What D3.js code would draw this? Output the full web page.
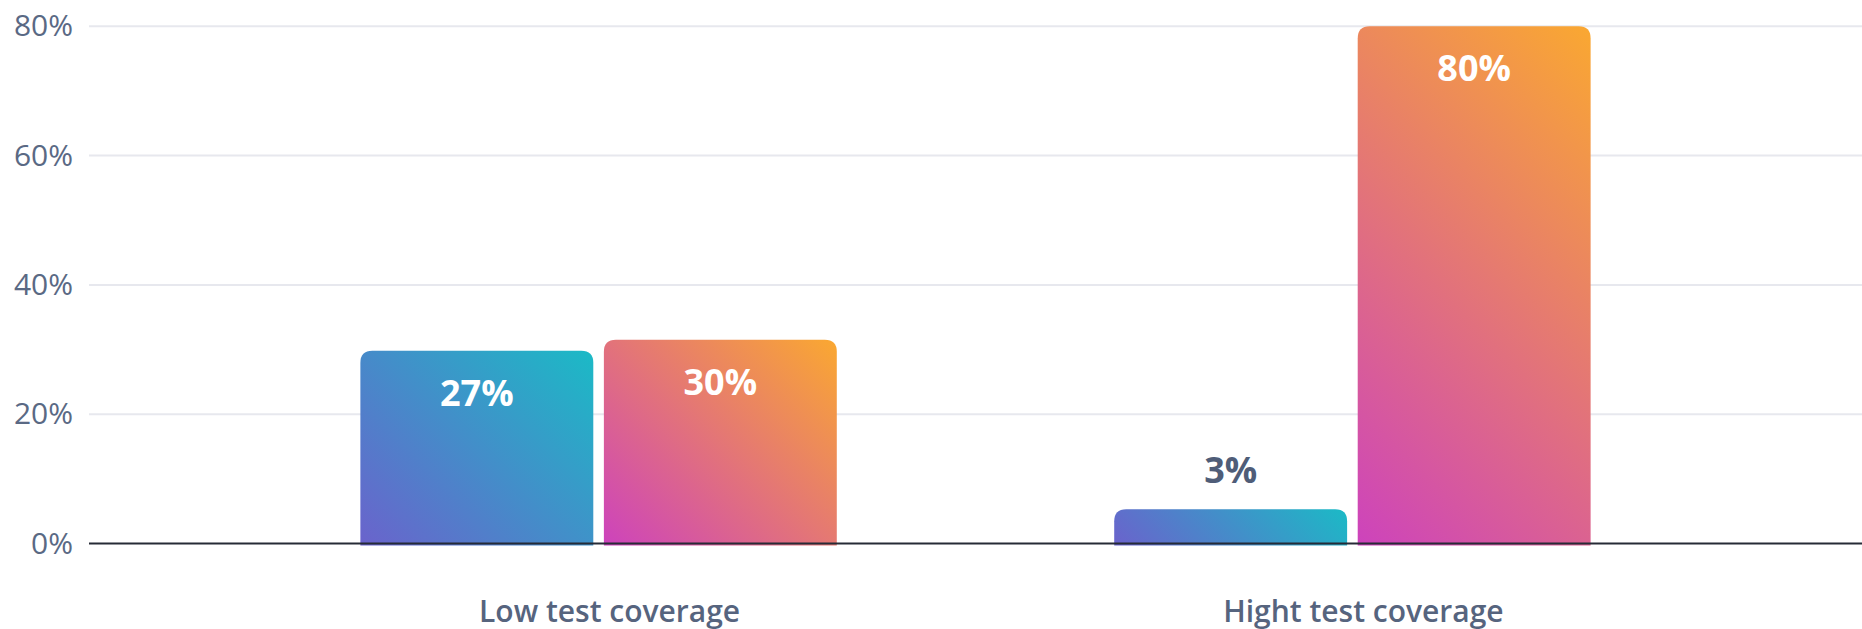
<!DOCTYPE html>
<html lang="en">
  <head>
    <meta charset="utf-8">
    <title>Test coverage</title>
    <script src="https://cdnjs.cloudflare.com/ajax/libs/d3/7.8.5/d3.min.js"></script>
    <style type="text/css">
      html, body { margin: 0; padding: 0; background: #fff; }
      svg { display: block; font-family: "Open Sans", sans-serif; }
    </style>
  </head>
  <body>
    <script type="text/javascript">
    // Width and height
    var w = 1862;
    var h = 629;

    // data
    var categories = ["Low test coverage", "Hight test coverage"];
    var series = ["before", "after"];
    var barValues = [[29.8, 31.5], [5.3, 80]];   // drawn heights, in %
    var barLabels = [["27%", "30%"], ["3%", "80%"]];
    var yTicks = [0, 20, 40, 60, 80];

    var gradColors = [["#6a63cc", "#1bbac6"], ["#cd43bc", "#faa831"]];

    // plot edges ("top" is taken by window.top, so use other names)
    var plotLeft = 89, plotTop = 26.3, plotBottom = 543.5;

    var svg = d3.select("body")
                .append("svg")
                .attr("width", w)
                .attr("height", h);

    var y = d3.scaleLinear().domain([0, 80]).range([plotBottom, plotTop]);

    var x0 = d3.scaleBand()
               .domain(categories)
               .range([plotLeft, w])
               .paddingInner(0.368)
               .paddingOuter(0.36);

    var x1 = d3.scaleBand()
               .domain(series)
               .range([0, x0.bandwidth()])
               .paddingInner(0.0435);

    var defs = svg.append("defs");

    // grid lines
    svg.append("g")
       .selectAll("line")
       .data(yTicks.filter(function(d) { return d > 0; }))
       .enter()
       .append("line")
       .attr("x1", plotLeft)
       .attr("x2", w)
       .attr("y1", function(d) { return y(d); })
       .attr("y2", function(d) { return y(d); })
       .attr("stroke", "#e7e8ee")
       .attr("stroke-width", 2);

    var yAxis = d3.axisLeft(y)
                  .tickValues(yTicks)
                  .tickSize(0)
                  .tickPadding(16)
                  .tickFormat(function(d) { return d + "%"; });

    var gy = svg.append("g")
       .attr("transform", "translate(" + plotLeft + ",0)")
       .call(yAxis);
    gy.select(".domain").remove();
    gy.selectAll("text")
      .attr("font-family", "'Open Sans', sans-serif")
      .attr("font-size", "30px")
      .attr("fill", "#5a6984");

    // bars with rounded tops
    function topRounded(x, yt, bw, bh, r) {
      r = Math.min(r, bh, bw / 2);
      return "M" + x + "," + (yt + bh) +
             "V" + (yt + r) +
             "Q" + x + "," + yt + " " + (x + r) + "," + yt +
             "H" + (x + bw - r) +
             "Q" + (x + bw) + "," + yt + " " + (x + bw) + "," + (yt + r) +
             "V" + (yt + bh) + "Z";
    }

    function rows(d, i) {
      return series.map(function(s, j) {
        return { cat: i, s: s, j: j, v: barValues[i][j], label: barLabels[i][j] };
      });
    }

    // 45deg gradient (like css linear-gradient(45deg, ...)) for one bar
    function addGradient(id, bx, by, bw, bh, cols) {
      var k = Math.SQRT1_2;
      var half = (bw + bh) * k / 2;
      var cx = bx + bw / 2, cy = by + bh / 2;
      var g = defs.append("linearGradient")
                  .attr("id", id)
                  .attr("gradientUnits", "userSpaceOnUse")
                  .attr("x1", cx - k * half).attr("y1", cy + k * half)
                  .attr("x2", cx + k * half).attr("y2", cy - k * half);
      g.append("stop").attr("offset", "0%").attr("stop-color", cols[0]);
      g.append("stop").attr("offset", "100%").attr("stop-color", cols[1]);
    }

    var groups = svg.selectAll("g.group")
       .data(categories)
       .enter()
       .append("g")
       .attr("class", "group")
       .attr("transform", function(d) { return "translate(" + x0(d) + ",0)"; });

    groups.selectAll("path")
       .data(rows)
       .enter()
       .append("path")
       .attr("d", function(d) {
          return topRounded(x1(d.s), y(d.v), x1.bandwidth(), plotBottom + 2 - y(d.v), 12);
       })
       .attr("fill", function(d) {
          var id = "grad" + d.cat + "_" + d.j;
          addGradient(id, x1(d.s), y(d.v), x1.bandwidth(), plotBottom - y(d.v), gradColors[d.j]);
          return "url(#" + id + ")";
       });

    groups.selectAll("text")
       .data(rows)
       .enter()
       .append("text")
       .text(function(d) { return d.label; })
       .attr("text-anchor", "middle")
       .attr("x", function(d) { return x1(d.s) + x1.bandwidth() / 2; })
       .attr("y", function(d) {
          var inside = plotBottom - y(d.v) > 80;
          return inside ? y(d.v) + 55 : y(d.v) - 26;
       })
       .attr("font-size", "36px")
       .attr("font-weight", 700)
       .attr("fill", function(d) {
          return plotBottom - y(d.v) > 80 ? "#ffffff" : "#4f5d78";
       });

    // baseline
    svg.append("line")
       .attr("x1", plotLeft)
       .attr("x2", w)
       .attr("y1", plotBottom)
       .attr("y2", plotBottom)
       .attr("stroke", "#262b36")
       .attr("stroke-width", 2);

    // category labels
    svg.selectAll("text.cat")
       .data(categories)
       .enter()
       .append("text")
       .attr("class", "cat")
       .text(function(d) { return d; })
       .attr("text-anchor", "middle")
       .attr("x", function(d) { return x0(d) + x0.bandwidth() / 2 + 11; })
       .attr("y", 621.5)
       .attr("font-size", "30px")
       .attr("font-weight", 600)
       .attr("fill", "#56647e");
    </script>
  </body>
</html>
